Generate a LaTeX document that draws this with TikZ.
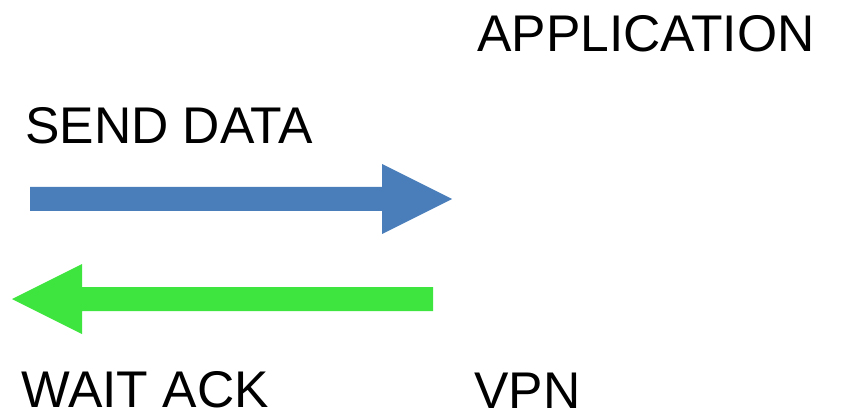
\documentclass[tikz,border=0pt]{standalone}
\usepackage{fontspec}
\setmainfont{Liberation Sans}
\definecolor{sendblue}{RGB}{74,126,187}
\definecolor{ackgreen}{RGB}{62,229,62}
\begin{document}
\begin{tikzpicture}[x=1pt,y=-1pt,
  lbl/.style={anchor=base west,inner sep=0pt,text depth=0pt,font=\fontsize{51.6}{56}\selectfont}]
\useasboundingbox (0,0) rectangle (841,414);
\node[lbl] (app) at (477,52) {APPLICATION};
\node[lbl] (send) at (25,144) {SEND DATA};
\node[lbl] (wait) at (21,407) {WAIT ACK};
\node[lbl] (vpn) at (474,408) {VPN};
\fill[sendblue] (30,187) -- (382,187) -- (382,164) -- (452,199) -- (382,234) -- (382,211) -- (30,211) -- cycle;
\fill[ackgreen] (433,287) -- (82,287) -- (82,264) -- (12,299) -- (82,334) -- (82,311) -- (433,311) -- cycle;
\end{tikzpicture}
\end{document}
